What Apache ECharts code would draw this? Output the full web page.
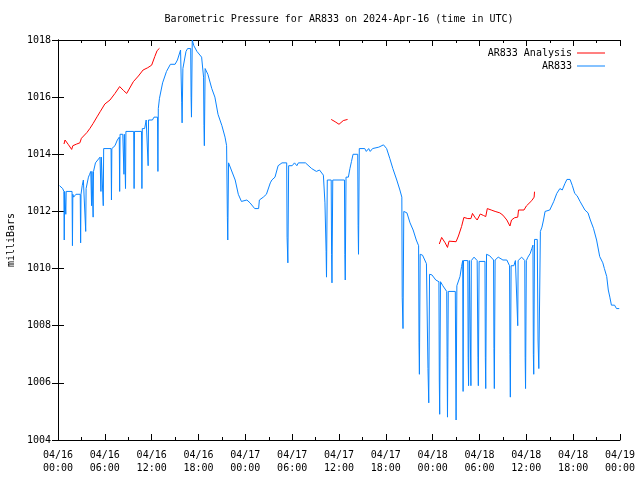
<!DOCTYPE html>
<html><head><meta charset="utf-8">
<script src="https://cdn.jsdelivr.net/npm/echarts@6/dist/echarts.min.js"></script>
<style>html,body{margin:0;padding:0;background:#fff}#c{width:640px;height:480px}</style>
</head><body><div id="c"></div>
<script>
// hours since 2024-04-16 00:00 UTC, pressure in mb
const ar833 = [
[0.2,1012.9],[0.6,1012.8],[0.75,1012.7],[0.8,1011.0],[0.85,1012.7],[0.95,1012.7],[1.0,1011.9],[1.05,1012.7],[1.8,1012.7],[1.85,1010.8],[1.9,1012.6],[2.0,1012.5],[2.3,1012.6],[2.85,1012.6],[2.9,1010.9],[2.95,1012.6],[3.1,1012.9],[3.25,1013.1],[3.5,1013.1],[3.55,1011.3],[3.6,1012.8],[3.9,1013.2],[4.05,1013.3],[4.2,1013.4],[4.3,1012.2],[4.35,1013.4],[4.5,1011.8],[4.55,1013.4],[4.8,1013.7],[5.0,1013.7],[5.38,1013.9],[5.5,1012.7],[5.55,1013.9],[5.8,1012.2],[5.85,1014.2],[6.8,1014.2],[6.85,1012.4],[6.9,1014.2],[7.3,1014.3],[7.6,1014.5],[7.85,1014.6],[7.9,1012.7],[7.95,1014.7],[8.3,1014.7],[8.45,1013.3],[8.5,1014.7],[8.65,1012.8],[8.7,1014.8],[9.7,1014.8],[9.75,1012.8],[9.8,1014.8],[10.7,1014.8],[10.75,1012.8],[10.8,1014.9],[11.1,1014.9],[11.3,1015.2],[11.55,1013.6],[11.6,1015.2],[12.1,1015.2],[12.3,1015.3],[12.75,1015.3],[12.8,1013.4],[12.85,1015.6],[13.0,1015.96],[13.4,1016.5],[13.9,1016.9],[14.4,1017.15],[15.0,1017.15],[15.3,1017.3],[15.7,1017.65],[15.85,1015.8],[15.9,1015.1],[16.0,1017.0],[16.4,1017.6],[16.6,1017.7],[17.0,1017.7],[17.05,1016.0],[17.1,1015.3],[17.2,1018.0],[17.4,1017.8],[17.8,1017.6],[18.4,1017.4],[18.65,1016.7],[18.7,1015.0],[18.75,1014.3],[18.85,1017.0],[19.2,1016.8],[19.7,1016.3],[20.1,1016.0],[20.5,1015.4],[21.0,1015.0],[21.4,1014.6],[21.6,1014.3],[21.7,1011.8],[21.75,1011.0],[21.85,1013.7],[22.0,1013.7],[22.7,1013.1],[23.1,1012.6],[23.5,1012.35],[24.2,1012.4],[24.6,1012.3],[25.2,1012.1],[25.7,1012.1],[25.8,1012.4],[26.3,1012.5],[26.7,1012.6],[27.2,1013.0],[27.4,1013.1],[27.8,1013.2],[28.2,1013.6],[28.7,1013.7],[29.3,1013.7],[29.35,1011.1],[29.45,1010.2],[29.55,1013.6],[30.0,1013.6],[30.3,1013.7],[30.6,1013.6],[30.8,1013.7],[31.7,1013.7],[32.5,1013.5],[33.1,1013.4],[33.5,1013.45],[34.0,1013.27],[34.2,1012.3],[34.35,1010.6],[34.4,1009.7],[34.5,1013.1],[35.0,1013.1],[35.05,1010.5],[35.1,1009.5],[35.2,1013.1],[36.7,1013.1],[36.75,1010.5],[36.8,1009.6],[36.9,1013.2],[37.2,1013.2],[37.4,1013.5],[37.6,1013.75],[37.8,1014.0],[38.4,1014.0],[38.45,1011.5],[38.5,1010.5],[38.6,1014.2],[39.3,1014.2],[39.5,1014.1],[39.8,1014.2],[40.0,1014.1],[40.3,1014.2],[41.1,1014.25],[41.7,1014.33],[42.1,1014.2],[42.5,1013.86],[42.9,1013.5],[43.4,1013.1],[43.8,1012.75],[44.05,1012.5],[44.1,1009.0],[44.2,1007.9],[44.3,1012.0],[44.7,1011.95],[45.1,1011.6],[45.5,1011.35],[45.9,1011.0],[46.2,1010.8],[46.25,1007.4],[46.3,1006.3],[46.4,1010.5],[46.7,1010.47],[47.2,1010.17],[47.4,1006.5],[47.5,1005.3],[47.6,1009.8],[47.9,1009.78],[48.4,1009.6],[48.8,1009.54],[48.85,1006.1],[48.9,1004.9],[49.0,1009.54],[49.3,1009.4],[49.8,1009.2],[49.85,1006.9],[49.9,1004.8],[50.0,1009.2],[50.9,1009.2],[50.95,1006.8],[51.0,1004.7],[51.1,1009.4],[51.5,1009.72],[51.7,1010.07],[51.85,1010.28],[51.9,1005.7],[51.95,1010.28],[52.5,1010.28],[52.55,1006.9],[52.6,1005.9],[52.7,1010.28],[52.85,1010.28],[52.9,1005.9],[52.95,1010.28],[53.3,1010.4],[53.7,1010.28],[53.8,1006.9],[53.85,1005.9],[53.95,1010.25],[54.7,1010.25],[54.75,1006.9],[54.8,1005.8],[54.9,1010.5],[55.3,1010.45],[55.8,1010.3],[55.85,1007.2],[55.9,1005.8],[56.0,1010.3],[56.4,1010.4],[57.0,1010.3],[57.5,1010.3],[57.85,1010.1],[57.9,1007.0],[57.95,1005.5],[58.05,1010.1],[58.4,1010.1],[58.6,1010.28],[58.85,1010.28],[58.9,1008.0],[58.95,1010.28],[59.4,1010.4],[59.8,1010.28],[59.85,1006.9],[59.9,1005.8],[60.0,1010.28],[60.2,1010.4],[60.5,1010.53],[60.7,1010.7],[60.85,1010.82],[60.9,1007.0],[60.95,1006.3],[61.05,1011.02],[61.4,1011.02],[61.5,1007.5],[61.6,1006.5],[61.8,1011.3],[62.0,1011.45],[62.2,1011.7],[62.4,1012.0],[63.0,1012.05],[63.5,1012.34],[63.9,1012.63],[64.3,1012.8],[64.6,1012.75],[64.95,1012.98],[65.2,1013.12],[65.6,1013.12],[65.9,1012.9],[66.2,1012.63],[66.5,1012.55],[66.9,1012.34],[67.5,1012.05],[67.9,1011.95],[68.2,1011.7],[68.6,1011.41],[69.0,1011.0],[69.4,1010.42],[69.8,1010.2],[70.0,1010.0],[70.3,1009.72],[70.5,1009.25],[70.7,1009.0],[70.9,1008.72],[71.3,1008.72],[71.55,1008.6],[71.9,1008.6]
];
const analysisA = [[0.77,1014.36],[0.9,1014.5],[1.3,1014.35],[1.75,1014.17],[1.9,1014.3],[2.4,1014.36],[2.8,1014.4],[3.0,1014.56],[3.7,1014.76],[4.1,1014.91],[4.5,1015.08],[5.0,1015.31],[5.4,1015.49],[6.0,1015.76],[6.66,1015.9],[7.3,1016.13],[7.9,1016.37],[8.4,1016.23],[8.8,1016.13],[9.0,1016.15],[9.65,1016.54],[10.3,1016.74],[10.9,1016.95],[11.5,1017.03],[12.0,1017.12],[12.4,1017.42],[12.7,1017.63],[13.0,1017.71]];
const analysisB = [[35.0,1015.22],[35.5,1015.14],[36.0,1015.05],[36.55,1015.18],[37.1,1015.22]];
const analysisC = [[48.85,1010.86],[49.15,1011.09],[49.6,1010.9],[49.9,1010.74],[50.1,1010.96],[51.0,1010.94],[51.3,1011.14],[51.7,1011.47],[52.0,1011.79],[52.5,1011.75],[52.9,1011.75],[53.1,1011.93],[53.4,1011.8],[53.7,1011.7],[54.1,1011.91],[54.5,1011.86],[54.8,1011.82],[55.0,1012.1],[55.5,1012.05],[56.0,1012.0],[56.6,1011.95],[57.0,1011.87],[57.5,1011.7],[57.9,1011.49],[58.1,1011.7],[58.5,1011.78],[58.9,1011.8],[59.0,1012.05],[59.7,1012.05],[60.0,1012.19],[60.7,1012.38],[61.0,1012.5],[61.05,1012.69]];
const xTickLabels = ['04/16\n00:00','04/16\n06:00','04/16\n12:00','04/16\n18:00','04/17\n00:00','04/17\n06:00','04/17\n12:00','04/17\n18:00','04/18\n00:00','04/18\n06:00','04/18\n12:00','04/18\n18:00','04/19\n00:00'];
const titleText = 'Barometric Pressure for AR833 on 2024-Apr-16 (time in UTC)';

const FONT = 'DejaVu Sans Mono';
const analysis = analysisA.concat([[13.5,null]], analysisB, [[40,null]], analysisC);
const chart = echarts.init(document.getElementById('c'), null, {renderer:'canvas'});
const axisLine = {show:true, lineStyle:{color:'#000', width:1}};
const xCommon = {type:'value', min:0, max:72, interval:6, splitLine:{show:false}, axisLine: axisLine,
  axisTick:{inside:true, length:6, lineStyle:{color:'#000'}}, minorTick:{show:true, splitNumber:2, length:3, lineStyle:{color:'#000'}}};
const yCommon = {type:'value', min:1004, max:1018, interval:2, splitLine:{show:false}, axisLine: axisLine,
  axisTick:{inside:true, length:6, lineStyle:{color:'#000'}}};
const legendCommon = {right:30, align:'right', orient:'vertical', icon:'rect', itemWidth:28, itemHeight:1, itemGap:0,
  textStyle:{fontFamily:FONT, fontSize:10, color:'#000'}};
chart.setOption({
  animation:false,
  grid:{left:58, right:20, top:40, bottom:40, containLabel:false, outerBoundsMode:'none'},
  graphic:[{type:'text', x:339, y:19, style:{text:titleText, textAlign:'center', textVerticalAlign:'middle', font:'10px "'+FONT+'"', fill:'#000'}}],
  legend:[
    Object.assign({data:['AR833 Analysis'], top:43}, legendCommon),
    Object.assign({data:['AR833'], top:56}, legendCommon)
  ],
  xAxis:[
    Object.assign({position:'bottom', axisLabel:{fontFamily:FONT, fontSize:10, color:'#000', lineHeight:13, margin:9,
      formatter:function(v){return xTickLabels[Math.round(v/6)];}}}, xCommon),
    Object.assign({position:'top', axisLabel:{show:false}}, xCommon)
  ],
  yAxis:[
    Object.assign({position:'left', name:'milliBars', nameLocation:'middle', nameGap:41, nameRotate:90,
      nameTextStyle:{fontFamily:FONT, fontSize:10, color:'#000'},
      axisLabel:{fontFamily:FONT, fontSize:10, color:'#000', margin:7, formatter:function(v){return String(v);}}}, yCommon),
    Object.assign({position:'right', axisLabel:{show:false}}, yCommon)
  ],
  series:[
    {name:'AR833 Analysis', type:'line', data:analysis, symbol:'none', connectNulls:false, lineStyle:{color:'#ff0000', width:1}, itemStyle:{color:'#ff0000'}, z:3},
    {name:'AR833', type:'line', data:ar833, symbol:'none', lineStyle:{color:'#0a84ff', width:1}, itemStyle:{color:'#0a84ff'}, z:2}
  ]
});
</script></body></html>
